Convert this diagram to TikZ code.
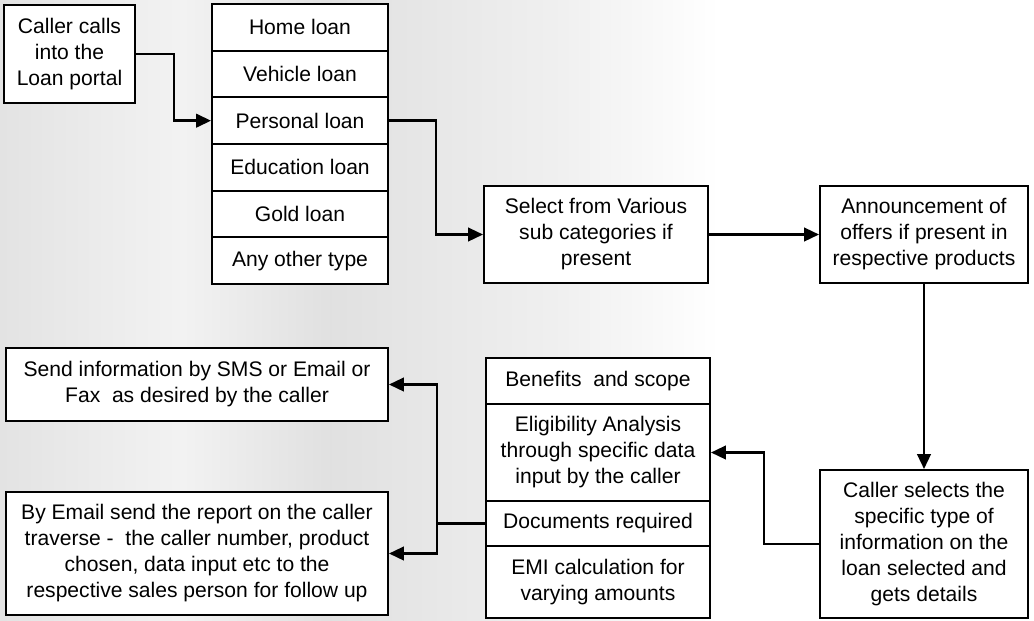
\documentclass[tikz,border=0pt]{standalone}
\usepackage{fontspec}
\setmainfont{Liberation Sans}
\usetikzlibrary{arrows.meta}

\tikzset{
  box/.style={draw, line width=1.1pt, fill=white, align=center, inner sep=0pt,
    font=\fontsize{12}{14.8}\selectfont},
  flow/.style={line width=1.5pt, -{Triangle[length=0.3cm,width=0.27cm]}},
  link/.style={line width=1.5pt}
}

\begin{document}
\begin{tikzpicture}[x=0.02cm, y=-0.02cm]
    \useasboundingbox (0,0) rectangle (1034,620);
    % curtain in the background
    \shade[left color=gray!22, right color=gray!10] (0,0) rectangle (180,620);
    \shade[left color=gray!10, right color=gray!24] (180,0) rectangle (330,620);
    \shade[left color=gray!24, right color=gray!12] (330,0) rectangle (560,620);
    \shade[left color=gray!12, right color=white] (560,0) rectangle (720,620);

    \node [box, minimum width=2.62cm, minimum height=1.96cm] (caller) at (69.5,54)
        {Caller calls\\into the\\Loan portal};

    % loan types
    \foreach \name/\txt [count=\i] in {home/Home loan, vehicle/Vehicle loan,
            personal/Personal loan, education/Education loan, gold/Gold loan,
            other/Any other type}
        \node [box, minimum width=3.52cm, minimum height=0.933cm] (\name)
            at (300,{4+46.67*(\i-0.5)}) {\txt};

    \node [box, minimum width=4.48cm, minimum height=1.94cm] (select) at (596,234.5)
        {Select from Various\\sub categories if\\present};
    \node [box, minimum width=4.16cm, minimum height=1.94cm] (announce) at (924,234.5)
        {Announcement of\\offers if present in\\respective products};
    \node [box, minimum width=4.16cm, minimum height=2.96cm] (callersel) at (924,544)
        {Caller selects the\\specific type of\\information on the\\loan selected and\\gets details};

    % information on the loan
    \node [box, minimum width=4.48cm, minimum height=0.92cm] (benefits) at (598,381)
        {Benefits~~and scope};
    \node [box, minimum width=4.48cm, minimum height=1.94cm] (elig) at (598,452.5)
        {Eligibility Analysis\\through specific data\\input by the caller};
    \node [box, minimum width=4.48cm, minimum height=0.9cm] (docs) at (598,523.5)
        {Documents required};
    \node [box, minimum width=4.48cm, minimum height=1.44cm] (emi) at (598,582)
        {EMI calculation for\\varying amounts};

    \node [box, minimum width=7.64cm, minimum height=1.46cm] (sendinfo) at (197,384.5)
        {Send information by SMS or Email or\\Fax~~as desired by the caller};
    \node [box, minimum width=7.64cm, minimum height=2.46cm] (byemail) at (197,553.5)
        {By Email send the report on the caller\\traverse -~~the caller number, product\\chosen, data input etc to the\\respective sales person for follow up};

    \draw [flow] (caller.east) -- ++(38,0) |- (personal.west);
    \draw [flow] (personal.east) -- ++(47,0) |- (select.west);
    \draw [flow] (select) -- (announce);
    \draw [flow] (announce) -- (callersel);
    \draw [flow] (callersel.west) -- ++(-55,0) |- (elig.east);
    \draw [link] (docs.west) -- ++(-48,0) coordinate (fork);
    \draw [flow] (fork) |- (sendinfo.east);
    \draw [flow] (fork) |- (byemail.east);
\end{tikzpicture}
\end{document}
